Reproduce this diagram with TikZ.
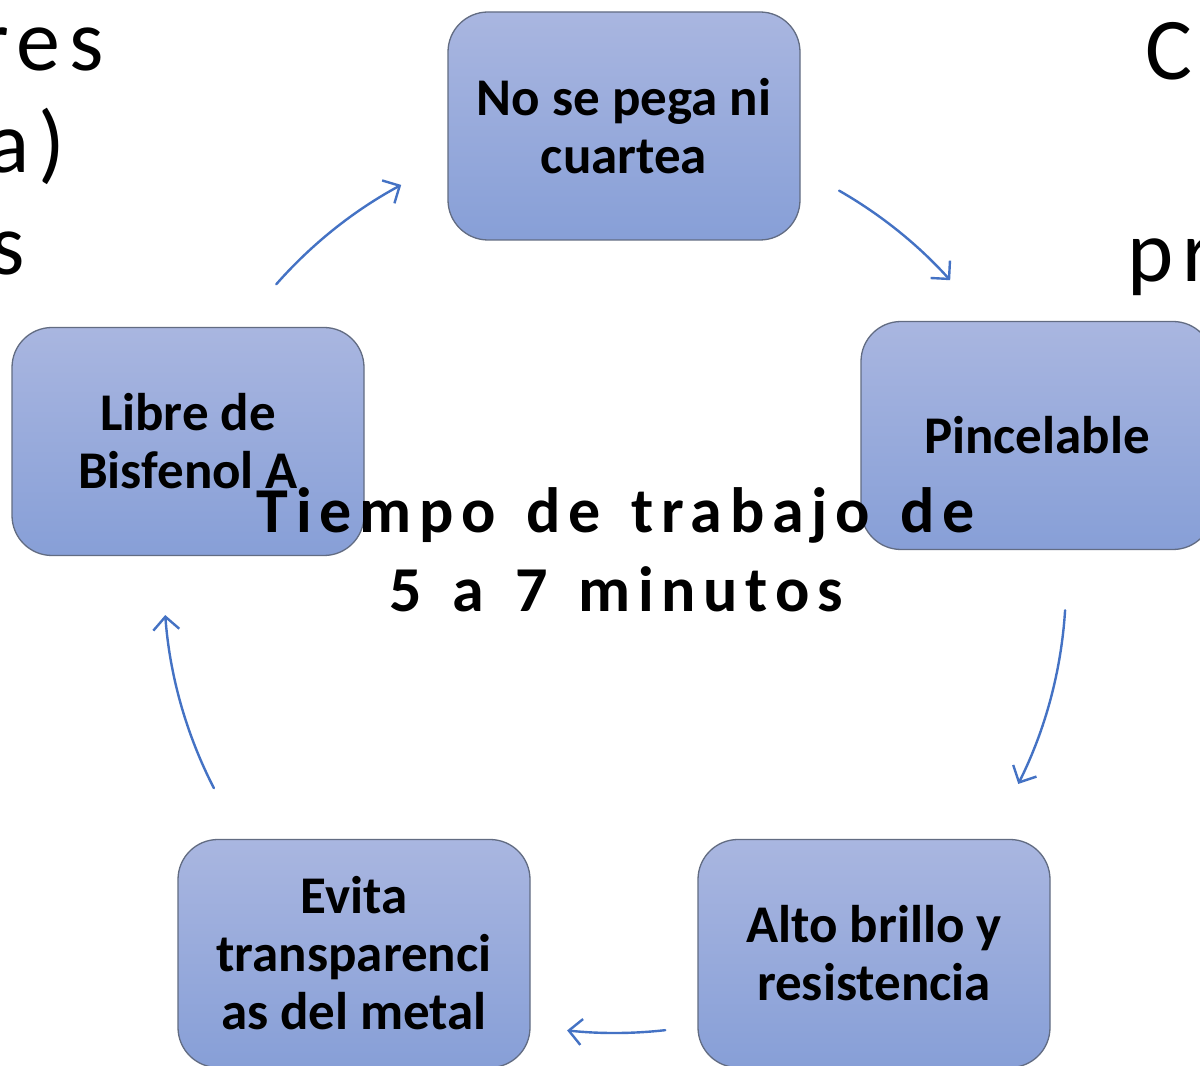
\documentclass[tikz,border=0pt]{standalone}
\usepackage{fontspec}
\setmainfont{Carlito}
\newfontfamily\spacedfont[LetterSpace=12,WordSpace=1.4]{Carlito}
\newfontfamily\bigspaced[LetterSpace=10]{Carlito}
\usetikzlibrary{arrows.meta,calc}
\definecolor{arrowblue}{RGB}{68,114,196}
\definecolor{boxtop}{RGB}{169,182,224}
\definecolor{boxbot}{RGB}{135,159,215}
\definecolor{boxline}{RGB}{98,108,130}
\begin{document}
\begin{tikzpicture}[x=1pt,y=1pt,
  cyclebox/.style={draw=boxline, line width=1.3pt, rounded corners=40pt,
    top color=boxtop, bottom color=boxbot,
    minimum width=352pt, minimum height=228pt, inner sep=0pt,
    align=center, text=black, font=\fontsize{53}{58}\selectfont\bfseries},
  cyclearrow/.style={draw=arrowblue, line width=2.4pt, line cap=round,
    -{Straight Barb[length=13pt,width=26pt,line width=2.4pt]}},
  midtext/.style={font=\spacedfont\fontsize{64}{78}\selectfont\bfseries, inner sep=0pt, text=black},
  sidetext/.style={font=\bigspaced\fontsize{88}{100}\selectfont, inner sep=0pt, text=black}
]
\fill[white] (0,0) rectangle (1200,1066);
\useasboundingbox (0,0) rectangle (1200,1066);

% partial background texts
\node[sidetext, anchor=base east] (l1) at (104,995) {res};
\node[sidetext, anchor=base east] (l2) at (65,893) {a)};
\node[sidetext, anchor=base east] (l3) at (25,791) {s};
\node[sidetext, anchor=base west] (r1) at (1145,986) {C};
\node[sidetext, anchor=base west] (r2) at (1127,784) {pr};

% boxes
\node[cyclebox] (top) at (624,940) {No se pega ni\\cuartea};
\node[cyclebox] (right) at (1037,630.5) {Pincelable};
\node[cyclebox] (bright) at (874,112.5) {Alto brillo y\\resistencia};
\node[cyclebox] (bleft) at (354,112.5) {Evita\\transparenci\\as del metal};
\node[cyclebox] (left) at (188,624.5) {Libre de\\Bisfenol A};

% arrows (arcs of the cycle circle)
\coordinate (c) at (615,484);
\coordinate (a1) at ($(c)+(138.7:451)$);
\coordinate (a2) at ($(c)+(60.2:451)$);
\coordinate (a3) at ($(c)+(-3.6:451)$);
\coordinate (a4) at ($(c)+(-83.6:451)$);
\coordinate (a5) at ($(c)+(207.2:451)$);
\draw[cyclearrow] (a1) arc[start angle=138.7, end angle=118.3, radius=451];
\draw[cyclearrow] (a2) arc[start angle=60.2, end angle=42.0, radius=451];
\draw[cyclearrow] (a3) arc[start angle=-3.6, end angle=-26.6, radius=451];
\draw[cyclearrow] (a4) arc[start angle=-83.6, end angle=-96.1, radius=451];
\draw[cyclearrow] (a5) arc[start angle=207.2, end angle=184.2, radius=451];

% central text
\node[midtext, anchor=base] (mid1) at (616,533) {Tiempo de trabajo de};
\node[midtext, anchor=base] (mid2) at (616,454) {5 a 7 minutos};
\end{tikzpicture}
\end{document}
